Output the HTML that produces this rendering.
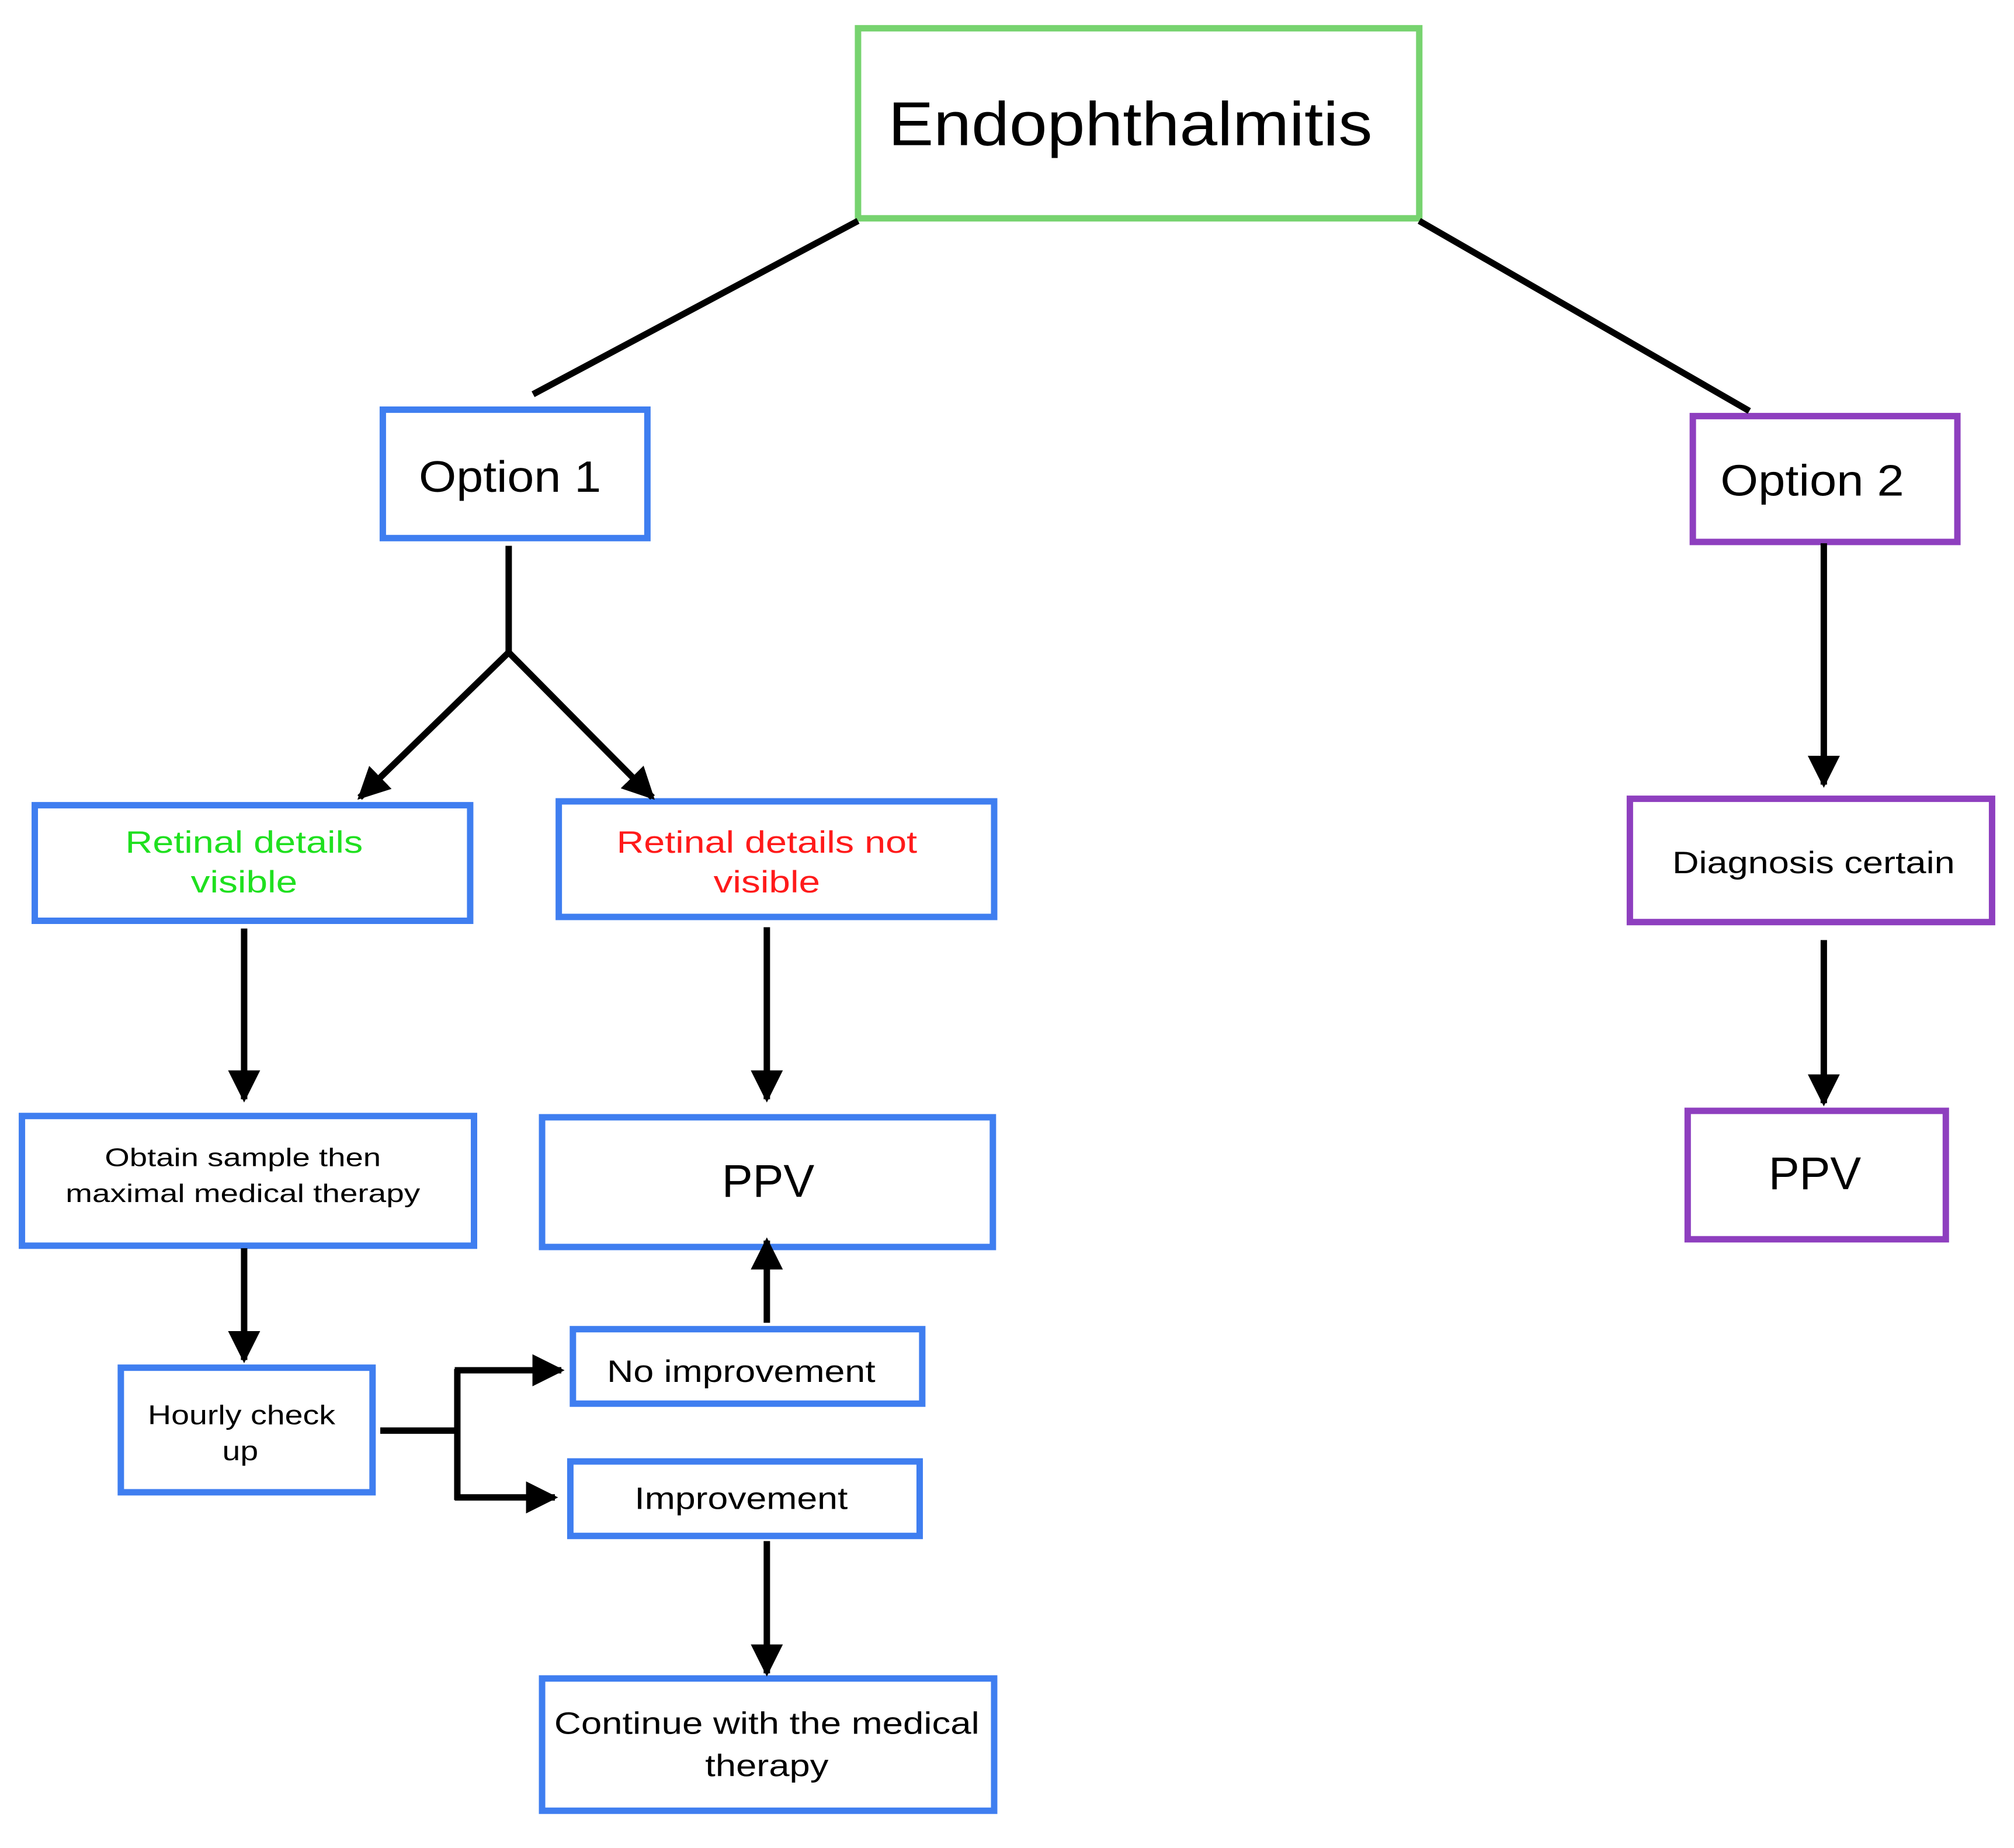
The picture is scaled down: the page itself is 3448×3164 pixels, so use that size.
<!DOCTYPE html>
<html><head><meta charset="utf-8"><style>
html,body{margin:0;padding:0;background:#fff;}
svg{display:block;}
text{font-family:"Liberation Sans",Arial,sans-serif;text-anchor:middle;fill:#000;}
</style></head><body>
<svg width="3448" height="3164" viewBox="0 0 1568 1439" xmlns="http://www.w3.org/2000/svg">
<defs>
<marker id="a" viewBox="0 0 10 10" refX="9" refY="5" markerWidth="5" markerHeight="5" markerUnits="strokeWidth" orient="auto">
<path d="M0,0 L10,5 L0,10 z" fill="#000"/></marker>
</defs>
<g fill="none" stroke-width="5">
<rect x="668" y="22" width="437" height="148" stroke="#77d36f"/>
<rect x="298" y="319" width="206" height="100" stroke="#3f7ef0"/>
<rect x="1318" y="324" width="206" height="98" stroke="#8e3fbf"/>
<rect x="27" y="627" width="339" height="90" stroke="#3f7ef0"/>
<rect x="435" y="624" width="339" height="90" stroke="#3f7ef0"/>
<rect x="17" y="869" width="352" height="101" stroke="#3f7ef0"/>
<rect x="422" y="870" width="351" height="101" stroke="#3f7ef0"/>
<rect x="94" y="1065" width="196" height="97" stroke="#3f7ef0"/>
<rect x="446" y="1035" width="272" height="58" stroke="#3f7ef0"/>
<rect x="444" y="1138" width="272" height="58" stroke="#3f7ef0"/>
<rect x="422" y="1307" width="352" height="103" stroke="#3f7ef0"/>
<rect x="1269" y="622" width="282" height="96" stroke="#8e3fbf"/>
<rect x="1314" y="865" width="201" height="100" stroke="#8e3fbf"/>
</g>
<g stroke="#000" stroke-width="5" fill="none">
<line x1="668" y1="172" x2="415" y2="307"/>
<line x1="1105" y1="172" x2="1362" y2="320"/>
<polyline points="396,425 396,508"/>
<line x1="396" y1="508" x2="280" y2="621" marker-end="url(#a)"/>
<line x1="396" y1="508" x2="508" y2="621" marker-end="url(#a)"/>
<line x1="190" y1="723" x2="190" y2="856" marker-end="url(#a)"/>
<line x1="597" y1="722" x2="597" y2="856" marker-end="url(#a)"/>
<line x1="190" y1="972" x2="190" y2="1059" marker-end="url(#a)"/>
<line x1="296" y1="1114" x2="356" y2="1114"/>
<line x1="356" y1="1066" x2="356" y2="1168"/>
<line x1="354" y1="1067" x2="437" y2="1067" marker-end="url(#a)"/>
<line x1="354" y1="1166" x2="432" y2="1166" marker-end="url(#a)"/>
<line x1="597" y1="1030" x2="597" y2="966" marker-end="url(#a)"/>
<line x1="597" y1="1200" x2="597" y2="1303" marker-end="url(#a)"/>
<line x1="1420" y1="423" x2="1420" y2="611" marker-end="url(#a)"/>
<line x1="1420" y1="732" x2="1420" y2="859" marker-end="url(#a)"/>
</g>
<text x="880" y="113" font-size="48" textLength="377" lengthAdjust="spacingAndGlyphs">Endophthalmitis</text>
<text x="397" y="383" font-size="34" textLength="142" lengthAdjust="spacingAndGlyphs">Option 1</text>
<text x="1411" y="386" font-size="34" textLength="143" lengthAdjust="spacingAndGlyphs">Option 2</text>
<text x="190" y="664" font-size="24" style="fill:#1fe01f" textLength="185" lengthAdjust="spacingAndGlyphs">Retinal details</text>
<text x="190" y="695" font-size="24" style="fill:#1fe01f" textLength="83" lengthAdjust="spacingAndGlyphs">visible</text>
<text x="597" y="664" font-size="24" style="fill:#ff1a1a" textLength="234" lengthAdjust="spacingAndGlyphs">Retinal details not</text>
<text x="597" y="695" font-size="24" style="fill:#ff1a1a" textLength="83" lengthAdjust="spacingAndGlyphs">visible</text>
<text x="189" y="908" font-size="20" textLength="215" lengthAdjust="spacingAndGlyphs">Obtain sample then</text>
<text x="189" y="936" font-size="20" textLength="276" lengthAdjust="spacingAndGlyphs">maximal medical therapy</text>
<text x="598" y="932" font-size="36">PPV</text>
<text x="188" y="1109" font-size="21" textLength="146" lengthAdjust="spacingAndGlyphs">Hourly check</text>
<text x="187" y="1137" font-size="21" textLength="28" lengthAdjust="spacingAndGlyphs">up</text>
<text x="577" y="1076" font-size="24" textLength="209" lengthAdjust="spacingAndGlyphs">No improvement</text>
<text x="577" y="1175" font-size="24" textLength="166" lengthAdjust="spacingAndGlyphs">Improvement</text>
<text x="597" y="1350" font-size="24" textLength="331" lengthAdjust="spacingAndGlyphs">Continue with the medical</text>
<text x="597" y="1383" font-size="24" textLength="96" lengthAdjust="spacingAndGlyphs">therapy</text>
<text x="1412" y="680" font-size="24" textLength="220" lengthAdjust="spacingAndGlyphs">Diagnosis certain</text>
<text x="1413" y="926" font-size="36">PPV</text>
</svg>
</body></html>
